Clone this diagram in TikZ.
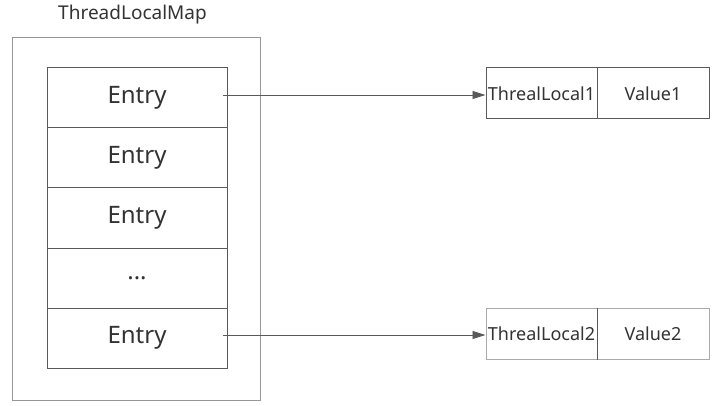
\documentclass[tikz,border=0pt]{standalone}
\usepackage{fontspec}
\setmainfont{Noto Sans}
\usetikzlibrary{arrows.meta}
\definecolor{txt}{RGB}{51,51,51}
\definecolor{outer}{RGB}{150,150,150}
\definecolor{edge}{RGB}{90,90,90}
\definecolor{light}{RGB}{170,170,170}
\begin{document}
\begin{tikzpicture}[x=1pt,y=-1pt,
  cell/.style={draw=edge,line width=1pt,minimum width=180pt,minimum height=60pt,inner sep=0pt,text=txt,font=\fontsize{24}{28}\selectfont},
  kv/.style={line width=1pt,minimum height=51pt,inner sep=0pt,text=txt,font=\fontsize{18}{21}\selectfont},
  conn/.style={draw=edge,line width=0.8pt,-{Triangle[length=13pt,width=8pt]}}]
\useasboundingbox (0,0) rectangle (717,406);
\node[draw=outer,line width=1pt,minimum width=248pt,minimum height=362pt,inner sep=0pt] (map) at (136,219) {};
\node[text=txt,font=\fontsize{19}{22}\selectfont] (title) at (132.5,15) {ThreadLocalMap};
\node[cell] (e1) at (137,98) {Entry};
\node[cell] (e2) at (137,158) {Entry};
\node[cell] (e3) at (137,218) {Entry};
\node[cell] (e4) at (137,278) {...};
\node[cell] (e5) at (137,338) {Entry};
\node[kv,draw=edge,minimum width=111pt] (k1) at (541.5,93.5) {ThrealLocal1};
\node[kv,draw=edge,minimum width=112pt] (v1) at (653,93.5) {Value1};
\node[kv,draw=light,minimum width=111pt] (k2) at (541.5,333.5) {ThrealLocal2};
\node[kv,draw=light,minimum width=112pt] (v2) at (653,333.5) {Value2};
\draw[edge,line width=1pt] (k2.north east) -- (k2.south east);
\coordinate (s1) at (223,95);
\coordinate (s2) at (223,335);
\draw[conn] (s1) -- (k1.west |- s1);
\draw[conn] (s2) -- (k2.west |- s2);
\end{tikzpicture}
\end{document}
